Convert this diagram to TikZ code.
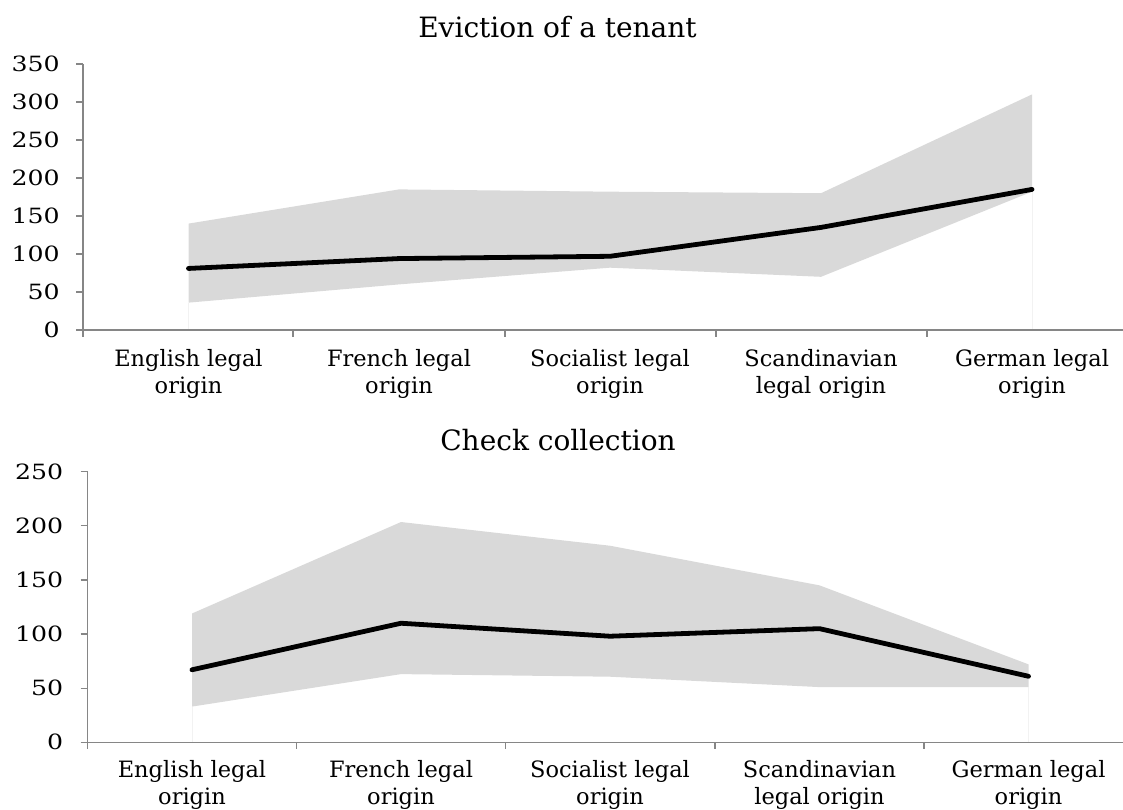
\documentclass[tikz,border=0pt]{standalone}
\usepackage{fontspec}
\setmainfont{DejaVu Serif}

\definecolor{axisgray}{RGB}{134,134,134}
\definecolor{bandgray}{RGB}{217,217,217}

\tikzset{
	axisline/.style={axisgray, line width=1.2pt},
	band/.style={fill=bandgray, draw=none},
	faint/.style={black!5, line width=0.8pt},
	meanline/.style={line width=4.8pt, line cap=round, line join=round},
	ticklabel/.style={anchor=east, inner sep=0pt, xscale=1.2, font=\fontsize{21}{25}\selectfont},
	catlabel/.style={anchor=base, align=center, inner sep=0pt, font=\fontsize{22.5}{26.7}\selectfont},
	charttitle/.style={anchor=base, inner sep=0pt, font=\fontsize{28}{32}\selectfont},
}

\begin{document}
\begin{tikzpicture}[x=1pt,y=1pt,yscale=-1,xscale=1]
	\useasboundingbox (0,0) rectangle (1123,809);

	% eviction of a tenant
	\node[charttitle] (evtitle) at (557.5,37) {Eviction of a tenant};
	\begin{scope}[shift={(0,330)}, yscale=-0.76]
		\fill[band] (188.5,140) -- (399,185) -- (610,182) -- (821,180) -- (1032,310) -- (1032,182) -- (821,70) -- (610,82) -- (399,60) -- (188.5,36) -- cycle;
		\draw[faint] (188.5,36) -- (188.5,0);
		\draw[faint] (1032,182) -- (1032,0);
		\draw[meanline] (188.5,81) -- (399,94) -- (610,97) -- (821,135) -- (1032,185);
		\draw[axisline] (83,350) -- (83,0) -- (1123,0);
		\foreach \v in {0,50,...,350} {
			\draw[axisline] (76,\v) -- (83,\v);
			\node[ticklabel] (evtick\v) at (60,\v) {\v};
		}
		\foreach \x in {83,293,505,716,927}
			\draw[axisline] (\x,0) -- (\x,-8.8);
	\end{scope}
	\node[catlabel] (evcat1) at (188.5,393.4) {English legal\\origin};
	\node[catlabel] (evcat2) at (399,393.4) {French legal\\origin};
	\node[catlabel] (evcat3) at (610,393.4) {Socialist legal\\origin};
	\node[catlabel] (evcat4) at (821,393.4) {Scandinavian\\legal origin};
	\node[catlabel] (evcat5) at (1032,393.4) {German legal\\origin};

	% check collection
	\node[charttitle] (cctitle) at (558,450) {Check collection};
	\begin{scope}[shift={(0,742.3)}, yscale=-1.0825]
		\fill[band] (192,119) -- (401,203.5) -- (610,181.6) -- (819.5,145) -- (1028.5,72) -- (1028.5,51) -- (819.5,51) -- (610,60.6) -- (401,63) -- (192,33) -- cycle;
		\draw[faint] (192,33) -- (192,0);
		\draw[faint] (1028.5,51) -- (1028.5,0);
		\draw[meanline] (192,67) -- (401,110) -- (610,98) -- (819.5,105) -- (1028.5,61);
		\draw[axisline] (87.7,250) -- (87.7,0) -- (1123,0);
		\foreach \v in {0,50,...,250} {
			\draw[axisline] (80.7,\v) -- (87.7,\v);
			\node[ticklabel] (cctick\v) at (63.5,\v) {\v};
		}
		\foreach \x in {87.7,296.7,505.7,715,924}
			\draw[axisline] (\x,0) -- (\x,-6.2);
	\end{scope}
	\node[catlabel] (cccat1) at (192,804) {English legal\\origin};
	\node[catlabel] (cccat2) at (401,804) {French legal\\origin};
	\node[catlabel] (cccat3) at (610,804) {Socialist legal\\origin};
	\node[catlabel] (cccat4) at (819.5,804) {Scandinavian\\legal origin};
	\node[catlabel] (cccat5) at (1028.5,804) {German legal\\origin};
\end{tikzpicture}
\end{document}
